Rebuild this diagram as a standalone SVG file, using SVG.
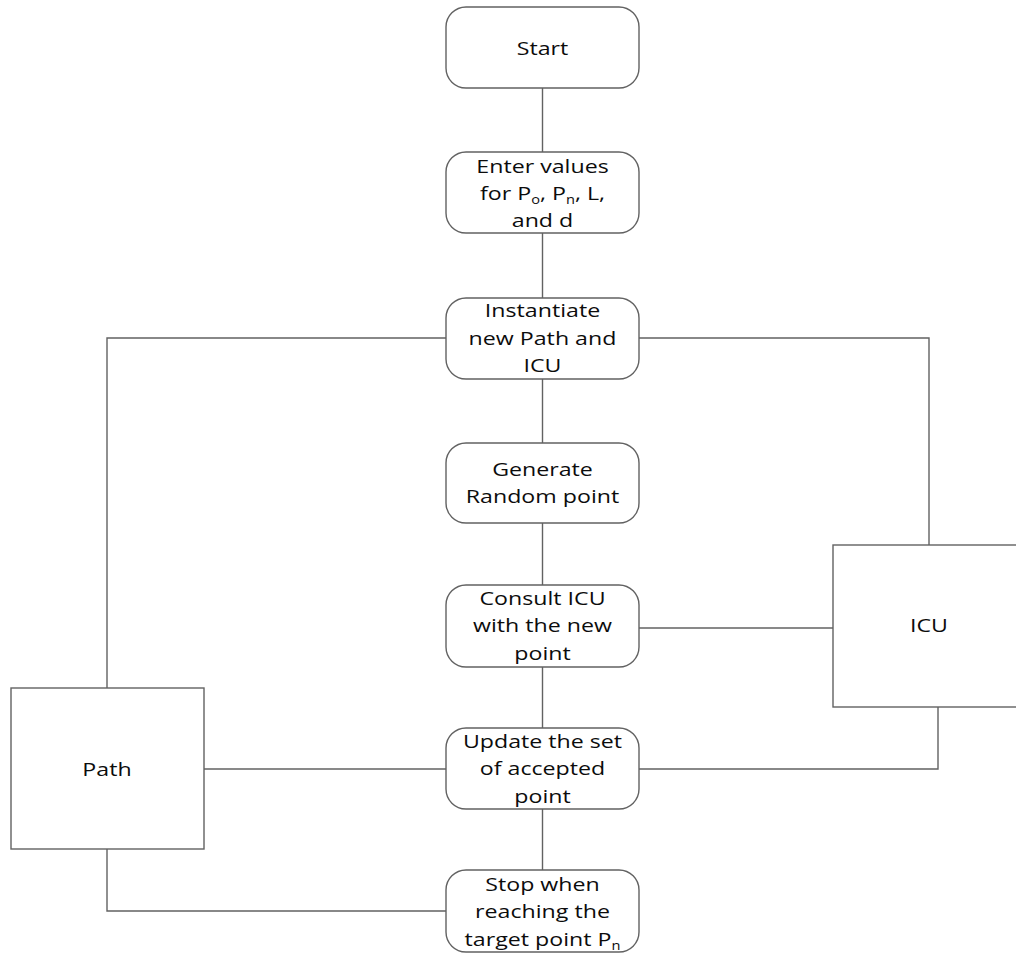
<svg xmlns="http://www.w3.org/2000/svg" width="1016" height="965" viewBox="0 0 1016 965">
<style>
.n{fill:#fff;stroke:#626262;stroke-width:1.4}
.c{fill:none;stroke:#626262;stroke-width:1.4}
text{font-family:"Open Sans","Noto Sans","Liberation Sans",sans-serif;font-size:19px;fill:#0c0c0c;text-anchor:middle}
.s{font-size:12px}
</style>
<rect width="1016" height="965" fill="#fff"/>
<g id="connectors">
<path class="c" d="M542.5 88V152M542.5 233V298M542.5 379V443M542.5 523V585M542.5 667V728M542.5 809V870"/>
<path class="c" d="M107 688V338H446"/>
<path class="c" d="M639 338H929V545"/>
<path class="c" d="M639 628H833"/>
<path class="c" d="M204 769H446"/>
<path class="c" d="M639 769H938V707"/>
<path class="c" d="M107 849V911H446"/>
</g>
<g id="start"><rect class="n" x="446" y="7" width="193" height="81" rx="20"/>
<g transform="translate(542.5 0) scale(1.22 1)"><text x="0" y="55">Start</text></g></g>
<g id="enter"><rect class="n" x="446" y="152" width="193" height="81" rx="20"/>
<g transform="translate(542.5 0) scale(1.22 1)">
<text x="0" y="173">Enter values</text>
<text x="0" y="200">for P<tspan class="s" dy="4">o</tspan><tspan dy="-4">, P</tspan><tspan class="s" dy="4">n</tspan><tspan dy="-4">, L,</tspan></text>
<text x="0" y="227">and d</text></g></g>
<g id="instantiate"><rect class="n" x="446" y="298" width="193" height="81" rx="20"/>
<g transform="translate(542.5 0) scale(1.22 1)">
<text x="0" y="317">Instantiate</text><text x="0" y="345">new Path and</text><text x="0" y="372">ICU</text></g></g>
<g id="generate"><rect class="n" x="446" y="443" width="193" height="80" rx="20"/>
<g transform="translate(542.5 0) scale(1.22 1)">
<text x="0" y="476">Generate</text><text x="0" y="503">Random point</text></g></g>
<g id="consult"><rect class="n" x="446" y="585" width="193" height="82" rx="20"/>
<g transform="translate(542.5 0) scale(1.22 1)">
<text x="0" y="605">Consult ICU</text><text x="0" y="632">with the new</text><text x="0" y="660">point</text></g></g>
<g id="update"><rect class="n" x="446" y="728" width="193" height="81" rx="20"/>
<g transform="translate(542.5 0) scale(1.22 1)">
<text x="0" y="748">Update the set</text><text x="0" y="775">of accepted</text><text x="0" y="803">point</text></g></g>
<g id="stop"><rect class="n" x="446" y="870" width="193" height="82" rx="20"/>
<g transform="translate(542.5 0) scale(1.22 1)">
<text x="0" y="891">Stop when</text><text x="0" y="918">reaching the</text><text x="0" y="946">target point P<tspan class="s" dy="4">n</tspan></text></g></g>
<g id="path"><rect class="n" x="11" y="688" width="193" height="161"/>
<g transform="translate(107 0) scale(1.22 1)"><text x="0" y="776">Path</text></g></g>
<g id="icu"><rect class="n" x="833" y="545" width="193" height="162"/>
<g transform="translate(929 0) scale(1.22 1)"><text x="0" y="632">ICU</text></g></g>
</svg>
